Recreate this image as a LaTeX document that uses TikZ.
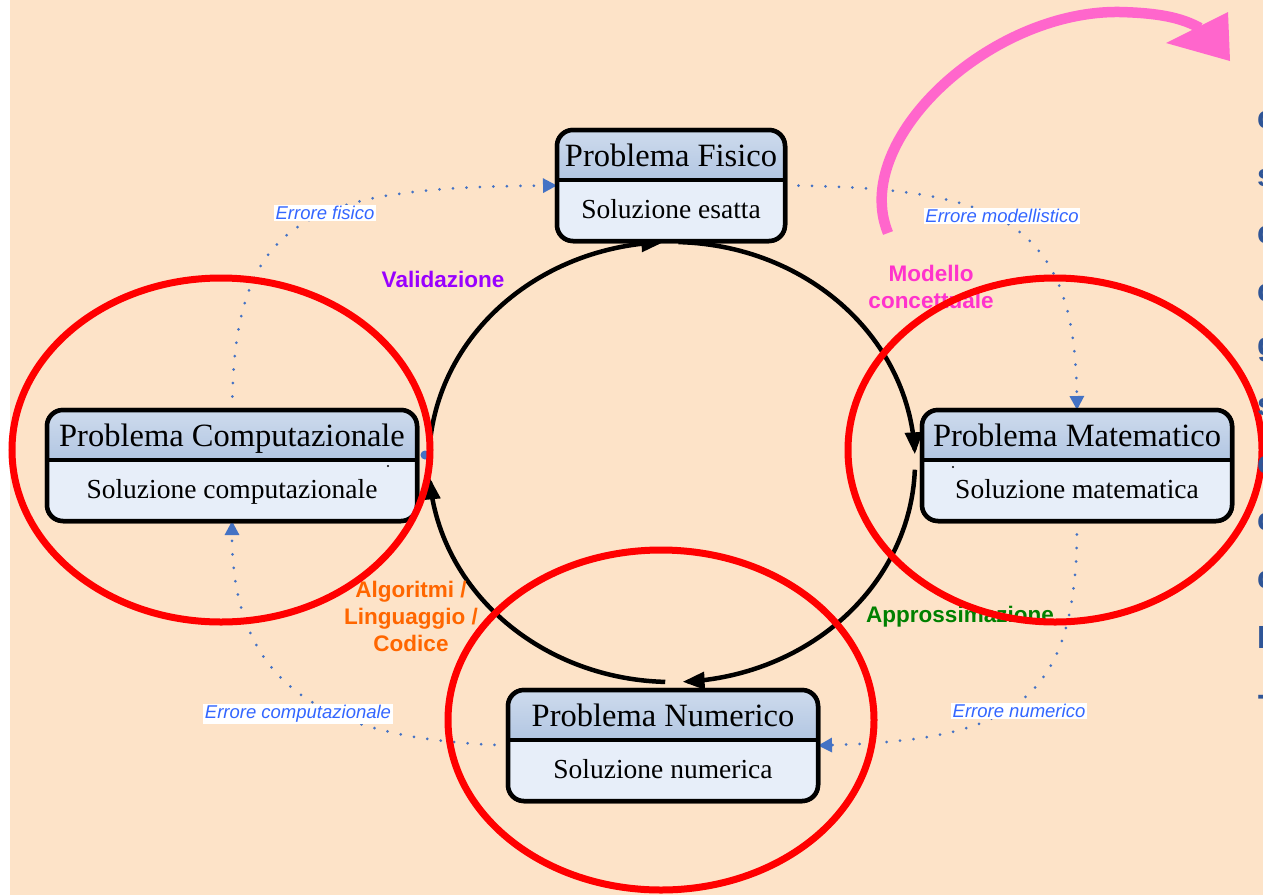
\documentclass[tikz,border=0pt]{standalone}
\usepackage{fontspec}
\setmainfont{Liberation Serif}
\setsansfont{Liberation Sans}
\usetikzlibrary{arrows.meta,calc}
\definecolor{peach}{RGB}{253,227,200}
\definecolor{boxtopA}{RGB}{206,219,237}
\definecolor{boxtopB}{RGB}{178,198,226}
\definecolor{boxbot}{RGB}{231,238,249}
\definecolor{dotblue}{RGB}{68,114,196}
\definecolor{errblue}{RGB}{51,102,255}
\definecolor{valpurple}{RGB}{153,0,255}
\definecolor{modpink}{RGB}{255,51,204}
\definecolor{apprgreen}{RGB}{0,128,0}
\definecolor{algorange}{RGB}{255,102,0}
\definecolor{arrowpink}{RGB}{255,102,204}
\definecolor{sideblue}{RGB}{47,85,151}
\tikzset{
 boxshape/.style={rectangle, inner sep=0, outer sep=0},
 boxborder/.style={line width=4.5pt, rounded corners=16pt},
 titletext/.style={inner sep=0, anchor=base, font=\fontsize{32.5}{38}\selectfont},
 subtext/.style={inner sep=0, anchor=base, font=\fontsize{27.5}{33}\selectfont},
 cyclearc/.style={line width=4.5pt, line join=round, -{Triangle[length=22pt,width=17pt]}},
 errline/.style={dotblue, line width=3pt, line cap=round, dash pattern=on 0pt off 13.5pt, -{Triangle[length=14pt,width=14pt]}},
 errlabel/.style={fill=white, inner sep=1.5pt, text=errblue, font=\sffamily\itshape\fontsize{18.5}{21}\selectfont},
 steplabel/.style={font=\sffamily\bfseries\fontsize{22.5}{27}\selectfont, align=center, inner sep=0},
 redring/.style={red, line width=7pt},
 sideletter/.style={anchor=west, inner sep=0, text=sideblue, font=\sffamily\bfseries\fontsize{32}{38}\selectfont},
}
\newcommand\probbox[6]{%
 \node[boxshape, minimum width=#4pt, minimum height=111pt] (#1) at (#2,#3+55.5) {};
 \begin{scope}
  \clip[rounded corners=16pt] (#1.south west) rectangle (#1.north east);
  \fill[top color=boxtopA, bottom color=boxtopB] (#1.north west) rectangle ([yshift=-50pt]#1.north east);
  \fill[boxbot] ([yshift=-50pt]#1.north west) rectangle (#1.south east);
 \end{scope}
 \draw[line width=4.5pt] ([yshift=-50pt]#1.north west) -- ([yshift=-50pt]#1.north east);
 \draw[boxborder] (#1.south west) rectangle (#1.north east);
 \node[titletext] (#1-t) at ([yshift=-36pt]#1.north) {#5};
 \node[subtext] (#1-s) at ([yshift=-88pt]#1.north) {#6};
}
\begin{document}
\begin{tikzpicture}[x=1pt,y=-1pt]
\useasboundingbox (0,0) rectangle (1263,895);
\fill[white] (0,0) rectangle (1263,895);
\fill[peach] (10,0) rectangle (1263,895);

% box nodes first (for naming)
\probbox{fis}{671}{130}{228}{Problema Fisico}{Soluzione esatta}
\probbox{comp}{232}{410}{370}{Problema Computazionale}{Soluzione computazionale}
\probbox{mat}{1077}{410}{310}{Problema Matematico}{Soluzione matematica}
\probbox{num}{663}{690}{310}{Problema Numerico}{Soluzione numerica}

% dotted error connectors
\draw[errline] (comp.north) .. controls +(2,-190) and +(-257,2) .. (fis.west);
\draw[errline] (fis.east) .. controls +(215,2) and +(-2,-190) .. (mat.north);
\draw[errline] (mat.south) .. controls +(1,180) and +(198,-6) .. (num.east);
\draw[errline] (num.west) .. controls +(-178,-6) and +(0,170) .. (comp.south);
\node[errlabel] (ef) at (325,213) {Errore fisico};
\node[errlabel] (em) at (1002,216) {Errore modellistico};
\node[errlabel] (en) at (1019,711) {Errore numerico};
\node[errlabel] (ec) at (298,714) {Errore computazionale};

% cycle
\coordinate (cyc) at (672,462);
\draw[cyclearc] plot[domain=-88.5:-2, samples=60] ({672+243*cos(\x)},{462+220*sin(\x)});
\draw[cyclearc] plot[domain=2:87.5, samples=60] ({672+243*cos(\x)},{462+220*sin(\x)});
\draw[cyclearc] plot[domain=91.6:176, samples=60] ({672+243*cos(\x)},{462+220*sin(\x)});
\draw[cyclearc] plot[domain=182:268, samples=60] ({672+243*cos(\x)},{462+220*sin(\x)});

% boxes on top of connectors
\probbox{fis}{671}{130}{228}{Problema Fisico}{Soluzione esatta}
\probbox{comp}{232}{410}{370}{Problema Computazionale}{Soluzione computazionale}
\probbox{mat}{1077}{410}{310}{Problema Matematico}{Soluzione matematica}
\probbox{num}{663}{690}{310}{Problema Numerico}{Soluzione numerica}

\fill (388,466) circle (1.1);
\fill (953,467) circle (1.1);
\fill[dotblue] (425,455) circle (4.5);

% step labels
\node[steplabel, text=valpurple] (val) at (443,279) {Validazione};
\node[steplabel, text=modpink] (mod) at (931,287) {Modello\\concettuale};
\node[steplabel, text=apprgreen] (appr) at (960,617) {Approssimazione};
\node[steplabel, text=algorange] (alg) at (411,616) {Algoritmi /\\Linguaggio /\\Codice};

% pink arrow
\coordinate (pinkstart) at (888,233);
\coordinate (pinkend) at (1200,28);
\draw[arrowpink, line width=10.5pt] (pinkstart) .. controls (850,140) and (990,10) .. (1120,12) .. controls (1160,13) and (1182,18) .. (pinkend);
\fill[arrowpink] (1228,12) -- (1230,61) -- (1166,43) -- cycle;

% red rings
\draw[redring] (221,450) ellipse [x radius=209, y radius=172];
\draw[redring] (1055,450) ellipse [x radius=207, y radius=172];
\draw[redring] (661,720) ellipse [x radius=213, y radius=170];

% side text, cut at the right edge as in the reference
\begin{scope}
\clip (1240,0) rectangle (1263,895);
\foreach \ch/\yy in {c/120,s/178,c/235,c/293,g/350,s/407,c/465,c/522,c/580,L/637,-/700}
  \node[sideletter] (side\yy) at (1257,\yy) {\ch};
\end{scope}
\end{tikzpicture}
\end{document}
